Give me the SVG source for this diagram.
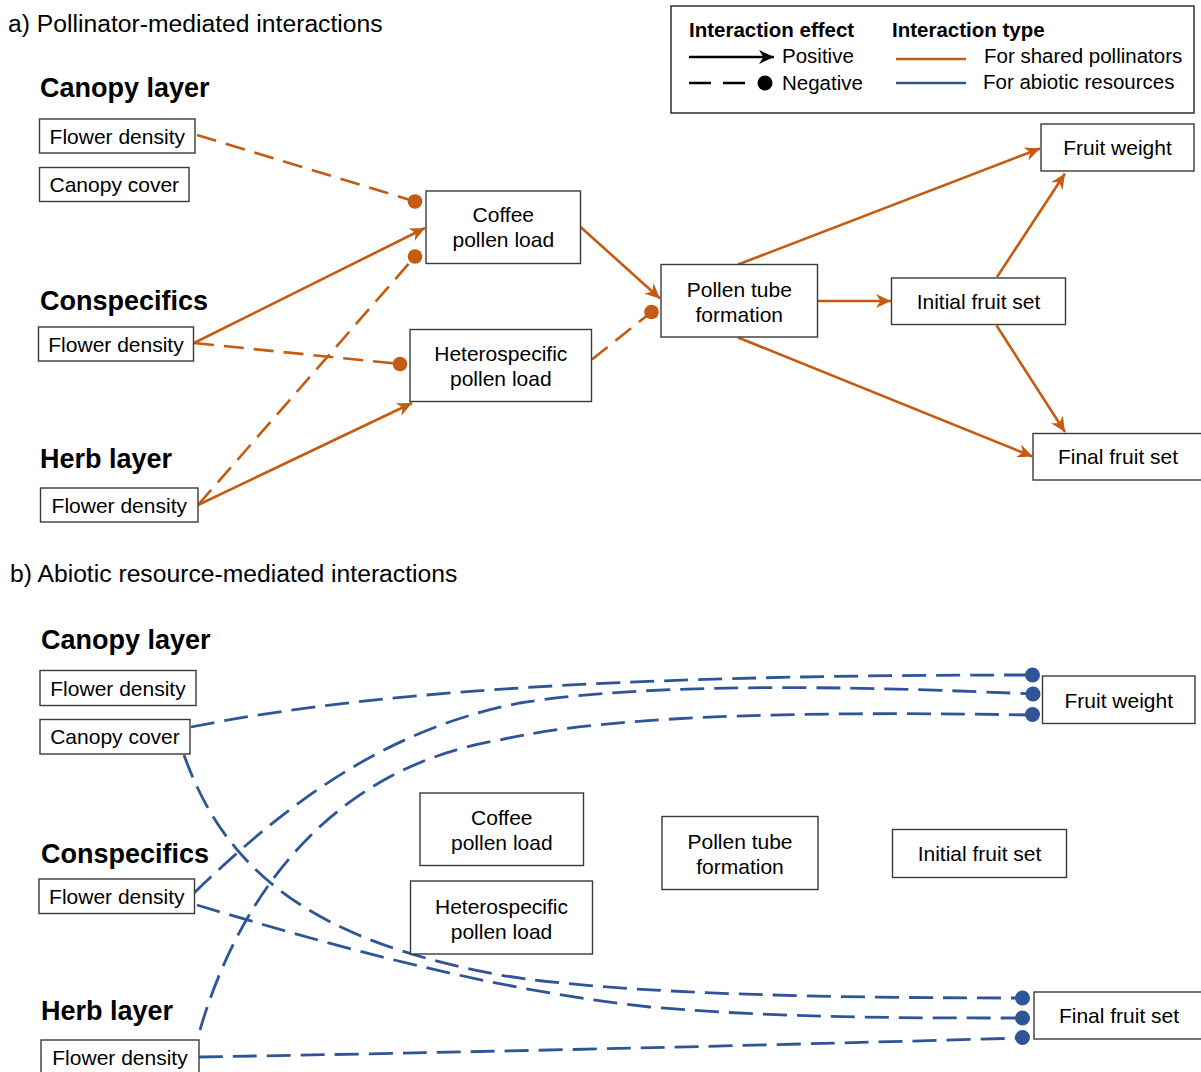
<svg xmlns="http://www.w3.org/2000/svg" width="1201" height="1072" viewBox="0 0 1201 1072">
<style>
text{font-family:"Liberation Sans",Arial,sans-serif;fill:#000}
.t{font-size:24.7px}
.h{font-size:27px;font-weight:bold}
.n{font-size:21px;text-anchor:middle}
.l{font-size:20.5px}
.lb{font-size:20.5px;font-weight:bold}
.box{fill:#fff;stroke:#3a3a3a;stroke-width:1.4}
.o{fill:none;stroke:#C55A11;stroke-width:2.6}
.od{fill:none;stroke:#C55A11;stroke-width:2.6;stroke-dasharray:20 10}
.bd{fill:none;stroke:#2F5597;stroke-width:2.8;stroke-dasharray:24 10}
.odot{fill:#C55A11}
.bdot{fill:#2F5597}
</style>
<defs>
<marker id="ao" markerUnits="userSpaceOnUse" markerWidth="16" markerHeight="14" refX="15" refY="7" orient="auto">
<path d="M0,0 L15,7 L0,14 L4.5,7 z" fill="#C55A11"/>
</marker>
<marker id="ak" markerUnits="userSpaceOnUse" markerWidth="16" markerHeight="14" refX="15" refY="7" orient="auto">
<path d="M0,0 L15,7 L0,14 L4.5,7 z" fill="#000"/>
</marker>
</defs>

<text class="t" x="8" y="32">a) Pollinator-mediated interactions</text>
<text class="t" x="10" y="582">b) Abiotic resource-mediated interactions</text>

<g id="legend">
<rect x="671" y="6" width="523" height="107" fill="#fff" stroke="#222" stroke-width="1.4"/>
<text class="lb" x="689" y="37">Interaction effect</text>
<line x1="689" y1="57" x2="774" y2="57" stroke="#000" stroke-width="2.4" marker-end="url(#ak)"/>
<text class="l" x="782" y="63">Positive</text>
<line x1="689" y1="83" x2="748" y2="83" stroke="#000" stroke-width="2.4" stroke-dasharray="22 12"/>
<circle cx="765" cy="83" r="7.5" fill="#000"/>
<text class="l" x="782" y="90">Negative</text>
<text class="lb" x="892" y="37">Interaction type</text>
<line x1="896" y1="59" x2="966" y2="59" stroke="#C55A11" stroke-width="2.6"/>
<text class="l" x="984" y="63">For shared pollinators</text>
<line x1="896" y1="83" x2="966" y2="83" stroke="#2F5597" stroke-width="2.6"/>
<text class="l" x="983" y="89">For abiotic resources</text>
</g>

<g id="connectors-a">
<line class="od" x1="197" y1="135" x2="415" y2="201.5"/>
<circle class="odot" cx="415" cy="201.5" r="7.3"/>
<line class="o" x1="194" y1="343" x2="425" y2="228" marker-end="url(#ao)"/>
<line class="od" x1="198" y1="505" x2="415" y2="256.5"/>
<circle class="odot" cx="415" cy="256.5" r="7.3"/>
<line class="od" x1="194" y1="343" x2="400" y2="364"/>
<circle class="odot" cx="400" cy="364" r="7.3"/>
<line class="o" x1="198" y1="505" x2="412" y2="403" marker-end="url(#ao)"/>
<line class="o" x1="580" y1="226.5" x2="660" y2="298.5" marker-end="url(#ao)"/>
<line class="od" x1="592" y1="359.5" x2="651.5" y2="312"/>
<circle class="odot" cx="651.5" cy="312" r="7.3"/>
<line class="o" x1="738" y1="264.5" x2="1040" y2="148.5" marker-end="url(#ao)"/>
<line class="o" x1="817" y1="301" x2="891" y2="301" marker-end="url(#ao)"/>
<line class="o" x1="738" y1="337.5" x2="1032.5" y2="456.5" marker-end="url(#ao)"/>
<line class="o" x1="997" y1="277" x2="1065" y2="173.5" marker-end="url(#ao)"/>
<line class="o" x1="996.5" y1="325.5" x2="1065" y2="432" marker-end="url(#ao)"/>
</g>

<g id="connectors-b">
<path class="bd" d="M191,727 C400,685 700,675 1032,675"/>
<path class="bd" d="M194,893 C280,810 380,730 520,703 C660,680 900,688 1033,694"/>
<path class="bd" d="M200,1030 C235,910 320,770 500,740 C620,712 850,712 1032,715"/>
<path class="bd" d="M184,755 C225,870 310,940 500,975 C620,995 850,998 1022,998"/>
<path class="bd" d="M197,905 C330,945 490,990 650,1007 C780,1018 900,1018 1022,1018"/>
<path class="bd" d="M199,1057 Q600,1050 1022,1038"/>
<circle class="bdot" cx="1032.5" cy="675" r="7.5"/>
<circle class="bdot" cx="1033" cy="694" r="7.5"/>
<circle class="bdot" cx="1032.5" cy="714.5" r="7.5"/>
<circle class="bdot" cx="1022.5" cy="998" r="7.5"/>
<circle class="bdot" cx="1022.5" cy="1018" r="7.5"/>
<circle class="bdot" cx="1022.5" cy="1037.5" r="7.5"/>
</g>

<!-- Part a nodes -->
<text class="h" x="40" y="97">Canopy layer</text>
<text class="h" x="40" y="310">Conspecifics</text>
<text class="h" x="40" y="468">Herb layer</text>
<g id="a-canopy-flower"><rect class="box" x="39.5" y="119" width="155.5" height="34"/><text class="n" x="117.3" y="143.5">Flower density</text></g>
<g id="a-canopy-cover"><rect class="box" x="39.5" y="167.5" width="149.5" height="34"/><text class="n" x="114.3" y="192">Canopy cover</text></g>
<g id="a-consp-flower"><rect class="box" x="38.5" y="327" width="155" height="34"/><text class="n" x="116" y="351.5">Flower density</text></g>
<g id="a-herb-flower"><rect class="box" x="40.5" y="488" width="157.5" height="34"/><text class="n" x="119.3" y="512.5">Flower density</text></g>
<g id="a-coffee"><rect class="box" x="426" y="191" width="154.5" height="72.5"/><text class="n" x="503.3" y="222">Coffee</text><text class="n" x="503.3" y="247">pollen load</text></g>
<g id="a-hetero"><rect class="box" x="410" y="329.5" width="181.5" height="72"/><text class="n" x="500.8" y="361">Heterospecific</text><text class="n" x="500.8" y="386">pollen load</text></g>
<g id="a-tube"><rect class="box" x="661" y="264.5" width="156.5" height="72.5"/><text class="n" x="739.3" y="296.5">Pollen tube</text><text class="n" x="739.3" y="321.5">formation</text></g>
<g id="a-initial"><rect class="box" x="891.5" y="278" width="174" height="46.5"/><text class="n" x="978.5" y="308.5">Initial fruit set</text></g>
<g id="a-weight"><rect class="box" x="1041" y="124" width="153" height="47"/><text class="n" x="1117.5" y="155">Fruit weight</text></g>
<g id="a-final"><rect class="box" x="1033" y="433.5" width="170" height="46.5"/><text class="n" x="1118" y="464">Final fruit set</text></g>

<!-- Part b nodes -->
<text class="h" x="41" y="649">Canopy layer</text>
<text class="h" x="41" y="863">Conspecifics</text>
<text class="h" x="41" y="1020">Herb layer</text>
<g id="b-canopy-flower"><rect class="box" x="40" y="670.5" width="156" height="35"/><text class="n" x="118" y="695.5">Flower density</text></g>
<g id="b-canopy-cover"><rect class="box" x="40" y="719.5" width="150" height="34.5"/><text class="n" x="115" y="744">Canopy cover</text></g>
<g id="b-consp-flower"><rect class="box" x="39" y="879" width="155.5" height="34.5"/><text class="n" x="116.8" y="903.5">Flower density</text></g>
<g id="b-herb-flower"><rect class="box" x="41" y="1040" width="158" height="36"/><text class="n" x="120" y="1065">Flower density</text></g>
<g id="b-coffee"><rect class="box" x="420" y="793" width="163.5" height="72.5"/><text class="n" x="501.8" y="825">Coffee</text><text class="n" x="501.8" y="850">pollen load</text></g>
<g id="b-hetero"><rect class="box" x="410.5" y="881" width="182" height="73"/><text class="n" x="501.5" y="914">Heterospecific</text><text class="n" x="501.5" y="938.5">pollen load</text></g>
<g id="b-tube"><rect class="box" x="662" y="816.5" width="156" height="73"/><text class="n" x="740" y="848.5">Pollen tube</text><text class="n" x="740" y="873.5">formation</text></g>
<g id="b-initial"><rect class="box" x="892.5" y="829.5" width="174" height="48"/><text class="n" x="979.5" y="861">Initial fruit set</text></g>
<g id="b-weight"><rect class="box" x="1042.5" y="676" width="152.5" height="47.5"/><text class="n" x="1118.8" y="707.5">Fruit weight</text></g>
<g id="b-final"><rect class="box" x="1034" y="992" width="170" height="47" /><text class="n" x="1119" y="1023">Final fruit set</text></g>
</svg>
